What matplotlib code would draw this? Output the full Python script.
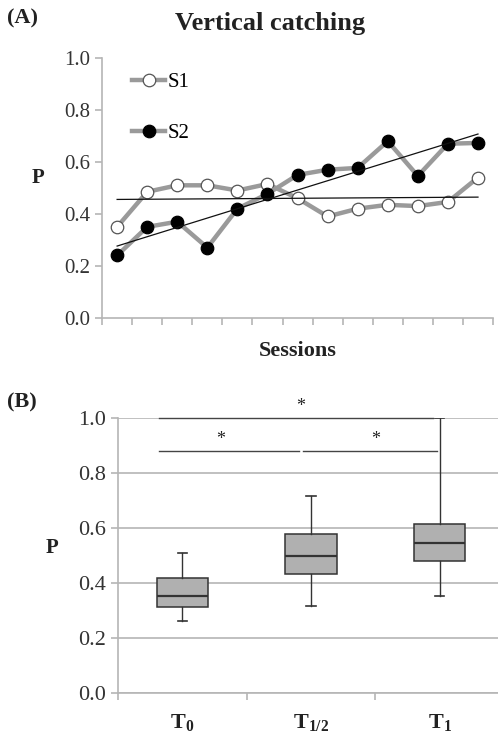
import numpy as np
import matplotlib
matplotlib.use('Agg')
import matplotlib.pyplot as plt

plt.rcParams['font.family'] = 'serif'
plt.rcParams['font.serif'] = ['Liberation Serif', 'DejaVu Serif']
plt.rcParams['mathtext.fontset'] = 'custom'
plt.rcParams['mathtext.bf'] = 'Liberation Serif:bold'
plt.rcParams['mathtext.rm'] = 'Liberation Serif:bold'
plt.rcParams['mathtext.default'] = 'bf'

# Panel A data: success probability per session
sessions = np.arange(13)
s1 = [0.35, 0.485, 0.51, 0.51, 0.49, 0.515, 0.46, 0.39, 0.42, 0.435, 0.43, 0.446, 0.54]
s2 = [0.24, 0.35, 0.37, 0.27, 0.42, 0.477, 0.55, 0.57, 0.577, 0.68, 0.546, 0.67, 0.673]

# Panel B data: box plot summary per time point
groups = ['T$_{0}$', 'T$_{1/2}$', 'T$_{1}$']
q1 = [0.313, 0.433, 0.48]
med = [0.353, 0.498, 0.545]
q3 = [0.418, 0.578, 0.615]
wlo = [0.262, 0.316, 0.353]
whi = [0.51, 0.716, 1.0]

axis_gray = '#b5b5b5'
line_gray = '#9a9a9a'
text_col = '#222222'
tick_col = '#333333'

fig = plt.figure(figsize=(4.98, 7.34), dpi=100)

# ---------------- Panel A ----------------
ax1 = fig.add_axes([0.205, 0.567, 0.785, 0.354])
ax1.plot(sessions, s1, color=line_gray, lw=3.2, marker='o', ms=9,
         mfc='white', mec='#555555', mew=0.9, label='S1', zorder=3)
ax1.plot(sessions, s2, color=line_gray, lw=3.2, marker='o', ms=9,
         mfc='black', mec='black', mew=0.9, label='S2', zorder=3)

# linear trend lines
for s in (s1, s2):
    k, b = np.polyfit(sessions, s, 1)
    ax1.plot(sessions[[0, -1]], k * sessions[[0, -1]] + b, color='#111111', lw=0.9, zorder=4)

ax1.set_xlim(-0.5, 12.5)
ax1.set_ylim(0, 1.0)
ax1.set_yticks(np.arange(0, 1.01, 0.2))
ax1.set_yticklabels(['%.1f' % v for v in np.arange(0, 1.01, 0.2)])
ax1.set_xticks(np.arange(-0.5, 12.6, 1))
ax1.set_xticklabels([])
for sp in ['top', 'right']:
    ax1.spines[sp].set_visible(False)
for sp in ['left', 'bottom']:
    ax1.spines[sp].set_color(axis_gray)
    ax1.spines[sp].set_linewidth(1.2)
ax1.tick_params(axis='both', color=axis_gray, length=5, width=1.2,
                labelsize=15, labelcolor=tick_col)
ax1.set_xlabel('Sessions', fontsize=16, fontweight='bold', color=text_col, labelpad=8)
ax1.set_ylabel('P', fontsize=15, fontweight='bold', color=text_col, rotation=0)
ax1.yaxis.set_label_coords(-0.165, 0.5)
ax1.set_title('Vertical catching', fontsize=19, fontweight='bold', color=text_col,
              pad=20, x=0.43)
leg = ax1.legend(loc='upper left', bbox_to_anchor=(0.055, 0.975), frameon=False,
                 fontsize=15, handlelength=1.6, handletextpad=0.1, labelspacing=1.5,
                 borderaxespad=0)
fig.text(0.015, 0.975, '(A)', fontsize=16, fontweight='bold', color=text_col, va='center')

# ---------------- Panel B ----------------
ax2 = fig.add_axes([0.237, 0.056, 0.775, 0.3745])
stats = []
for i in range(len(groups)):
    stats.append({'med': med[i], 'q1': q1[i], 'q3': q3[i],
                  'whislo': wlo[i], 'whishi': whi[i], 'fliers': []})
ax2.bxp(stats, positions=range(len(groups)), widths=0.4, capwidths=0.07,
        patch_artist=True, showfliers=False,
        boxprops=dict(facecolor='#b0b0b0', edgecolor='#333333', linewidth=1.1),
        medianprops=dict(color='#333333', linewidth=1.6),
        whiskerprops=dict(color='#333333', linewidth=1.0),
        capprops=dict(color='#333333', linewidth=1.2), zorder=3)

ax2.set_xlim(-0.5, 2.5)
ax2.set_ylim(0, 1.0)
ax2.set_yticks(np.arange(0, 1.01, 0.2))
ax2.set_yticklabels(['%.1f' % v for v in np.arange(0, 1.01, 0.2)])
ax2.set_xticks(range(len(groups)))
ax2.set_xticklabels(groups, fontweight='bold')
ax2.set_xticks([-0.5, 0.5, 1.5, 2.5], minor=True)
ax2.tick_params(axis='x', which='major', length=0, pad=14, labelsize=16, labelcolor=text_col)
ax2.tick_params(axis='x', which='minor', length=5, width=1.2, color=axis_gray)
ax2.tick_params(axis='y', length=5, width=1.2, color=axis_gray, labelsize=16, labelcolor=tick_col)
ax2.yaxis.grid(True, color=axis_gray, linewidth=1.2)
ax2.set_axisbelow(True)
for sp in ['top', 'right']:
    ax2.spines[sp].set_visible(False)
for sp in ['left', 'bottom']:
    ax2.spines[sp].set_color(axis_gray)
    ax2.spines[sp].set_linewidth(1.2)
ax2.set_ylabel('P', fontsize=15, fontweight='bold', color=text_col, rotation=0)
ax2.yaxis.set_label_coords(-0.17, 0.49)

# significance bars
sig_lines = [(-0.18, 1.95, 1.0, 0.92), (-0.18, 0.91, 0.88, 0.30), (0.94, 1.98, 0.88, 1.50)]
for x0, x1, y, xs in sig_lines:
    ax2.plot([x0, x1], [y, y], color='#444444', lw=1.0, clip_on=False, zorder=4)
    ax2.text(xs, y + 0.012, '*', ha='center', va='bottom', fontsize=13, color=text_col)

fig.text(0.015, 0.452, '(B)', fontsize=16, fontweight='bold', color=text_col, va='center')

fig.savefig('out.png', dpi=100)
